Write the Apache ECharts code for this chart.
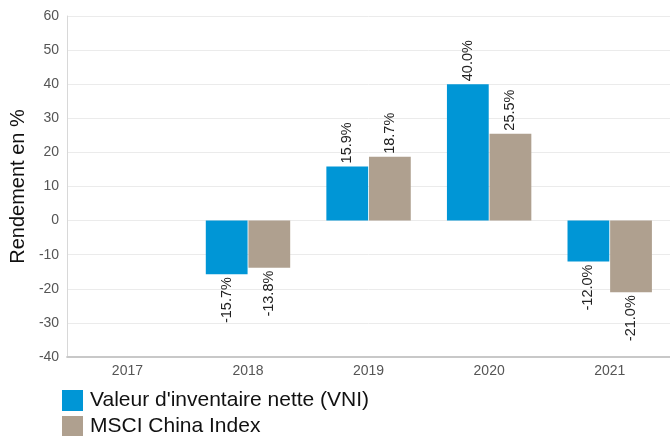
<!DOCTYPE html>
<html>
<head>
<meta charset="utf-8">
<script src="https://cdn.jsdelivr.net/npm/echarts@6/dist/echarts.min.js"></script>
<style>
  html, body { margin: 0; padding: 0; background: #fff; }
  #chart { width: 670px; height: 436px; }
</style>
</head>
<body>
<div id="chart"></div>
<script>
// années
const years = ['2017', '2018', '2019', '2020', '2021']
// rendements en %
const vniValues = [null, -15.7, 15.9, 40.0, -12.0]
const msciValues = [null, -13.8, 18.7, 25.5, -21.0]
const seriesNames = ["Valeur d'inventaire nette (VNI)", 'MSCI China Index']

const fontFamily = 'Liberation Sans, Arial, sans-serif'

const toBarData = (arr) => arr.map(v => {
  if (v === null) return null
  return {
    value: v,
    label: v < 0
      ? { position: 'bottom', align: 'right', distance: 3 }
      : { position: 'top', align: 'left', distance: 3 }
  }
})

const barLabel = {
  show: true,
  rotate: 90,
  verticalAlign: 'middle',
  fontSize: 14.5,
  color: '#222',
  fontFamily: fontFamily,
  formatter: (p) => p.value.toFixed(1) + '%'
}

const legendItem = (name, top) => ({
  orient: 'vertical',
  left: 62,
  top: top,
  padding: 0,
  itemWidth: 21,
  itemHeight: 21,
  icon: 'rect',
  data: [name],
  textStyle: { fontSize: 21, color: '#111', fontFamily: fontFamily, padding: [0, 0, 0, 2] }
})

const myChart = echarts.init(document.getElementById('chart'))
myChart.setOption({
  animation: false,
  color: ['#0096d6', '#afa08f'],
  textStyle: { fontFamily: fontFamily },
  grid: { left: 65, right: 0, top: 16, bottom: 79 },
  legend: [
    legendItem(seriesNames[0], 390),
    legendItem(seriesNames[1], 416)
  ],
  xAxis: {
    type: 'category',
    data: years,
    axisTick: { show: false },
    axisLine: { onZero: false, lineStyle: { color: '#c8c8c8', width: 2 } },
    axisLabel: { fontSize: 14, color: '#555', margin: 7 }
  },
  yAxis: {
    type: 'value',
    min: -40,
    max: 60,
    interval: 10,
    name: 'Rendement en %',
    nameLocation: 'middle',
    nameGap: 38,
    nameTextStyle: { fontSize: 20, color: '#111', fontFamily: fontFamily },
    axisLine: { show: true, lineStyle: { color: '#d8d8d8' } },
    axisTick: { show: false },
    axisLabel: { fontSize: 14, color: '#555', margin: 8 },
    splitLine: { lineStyle: { color: '#ebebeb' } }
  },
  series: [
    {
      name: seriesNames[0],
      type: 'bar',
      data: toBarData(vniValues),
      barGap: '2%',
      barCategoryGap: '30%',
      label: barLabel
    },
    {
      name: seriesNames[1],
      type: 'bar',
      data: toBarData(msciValues),
      barGap: '2%',
      barCategoryGap: '30%',
      label: barLabel
    }
  ]
})
</script>
</body>
</html>
